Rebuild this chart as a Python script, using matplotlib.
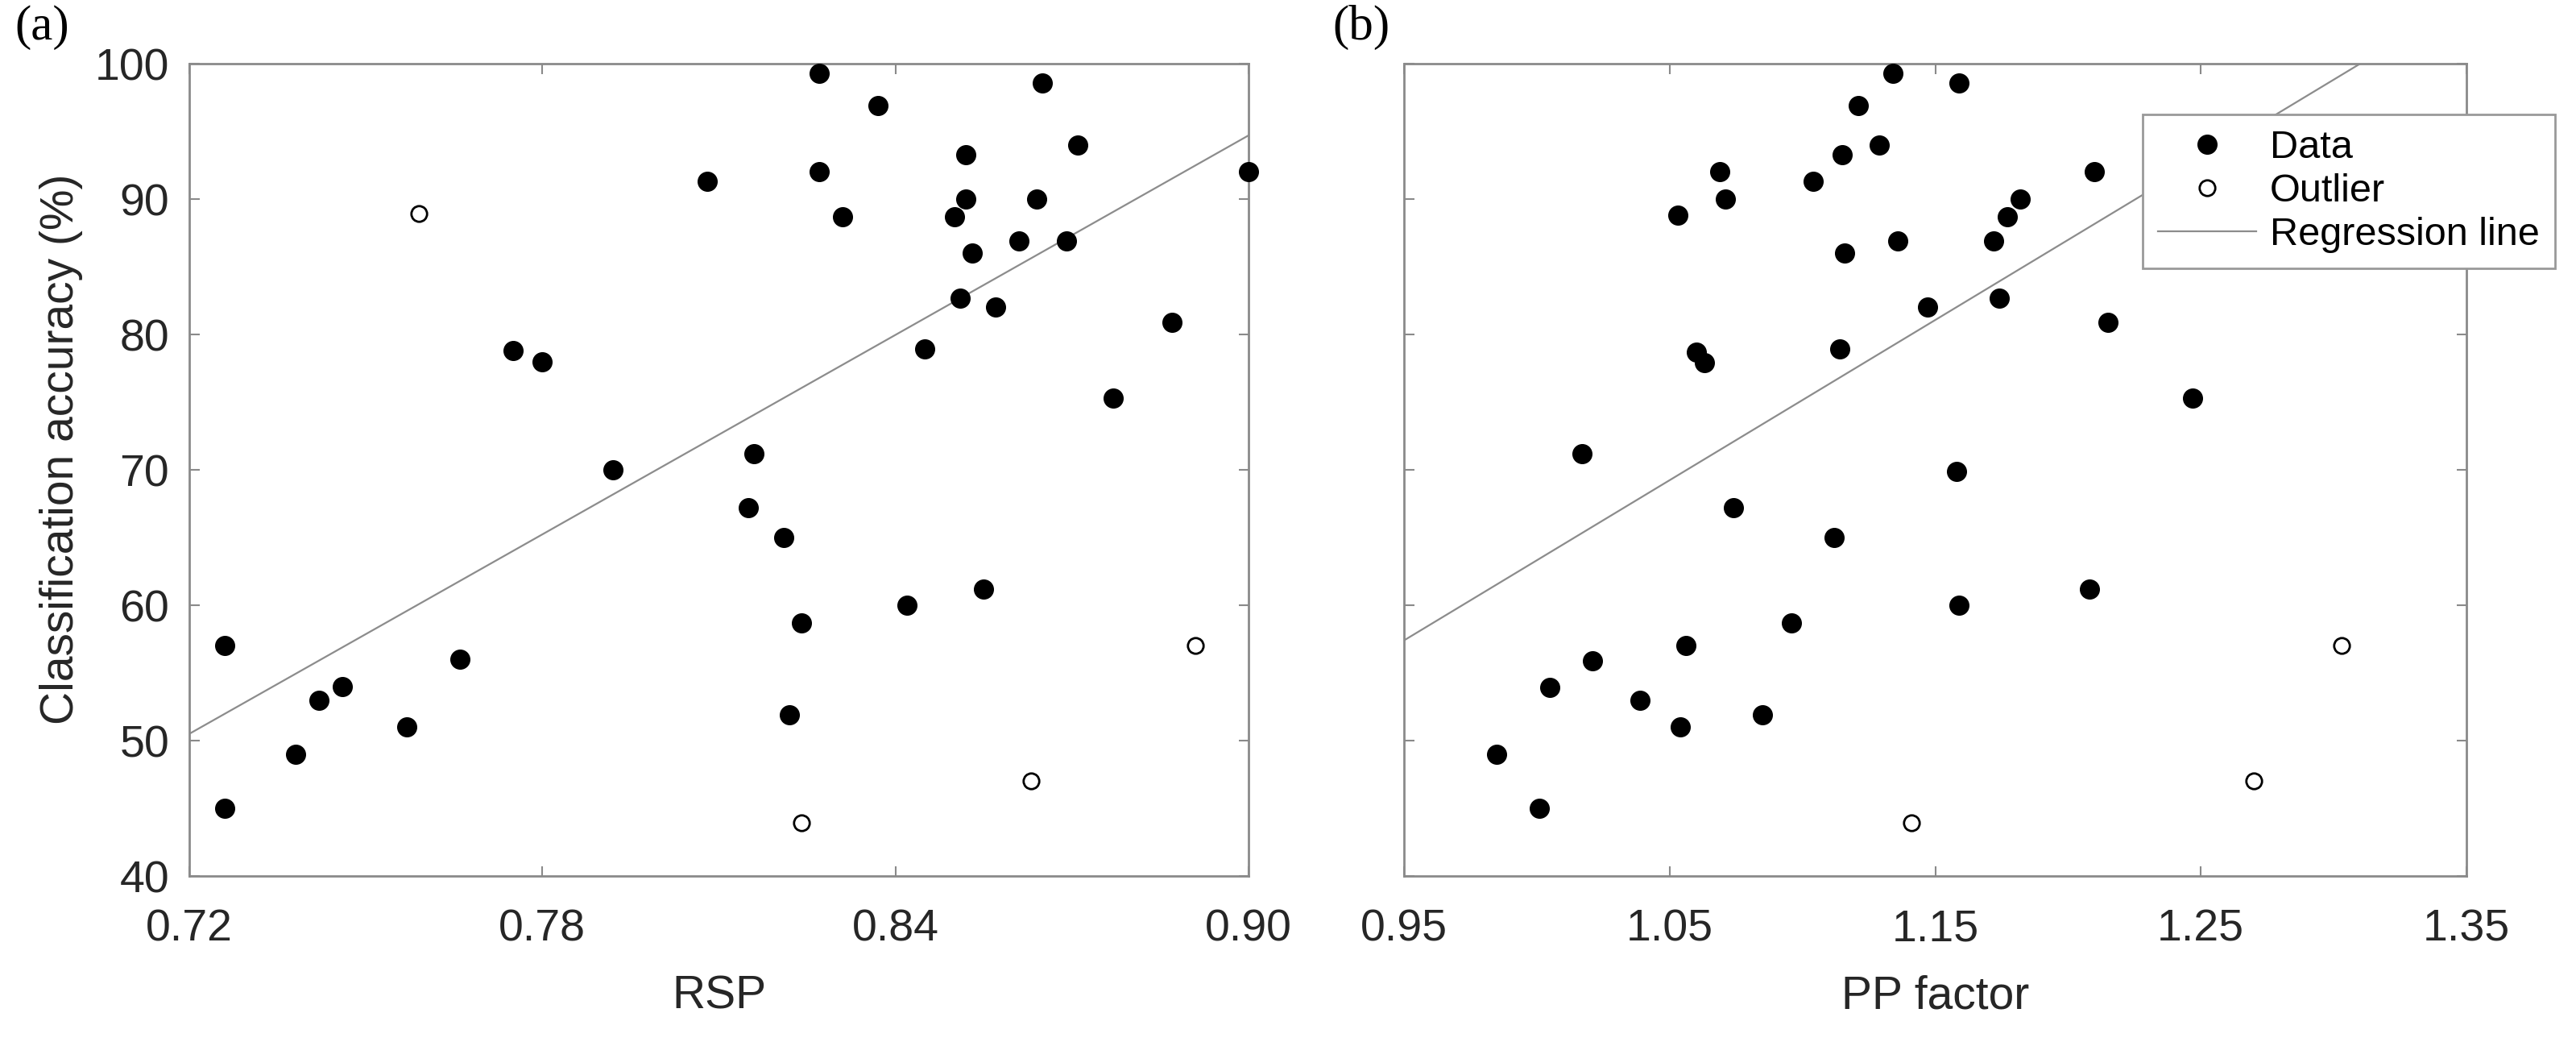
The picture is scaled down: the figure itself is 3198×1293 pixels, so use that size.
import matplotlib
matplotlib.use("Agg")
import matplotlib.pyplot as plt

plt.rcParams['font.family'] = ['Liberation Sans', 'DejaVu Sans']

# panel (a): RSP vs classification accuracy
rsp_x = [0.726, 0.726, 0.738, 0.742, 0.746, 0.757, 0.766, 0.775, 0.780, 0.792,
         0.808, 0.815, 0.816, 0.821, 0.822, 0.824, 0.827, 0.827, 0.831, 0.837,
         0.842, 0.845, 0.850, 0.851, 0.852, 0.852, 0.853, 0.855, 0.857, 0.861,
         0.864, 0.865, 0.869, 0.871, 0.877, 0.887, 0.900]
rsp_y = [57.0, 45.0, 49.0, 53.0, 54.0, 51.0, 56.0, 78.8, 78.0, 70.0,
         91.3, 67.2, 71.2, 65.0, 51.9, 58.7, 99.3, 92.0, 88.7, 96.9,
         60.0, 78.9, 88.7, 82.7, 90.0, 93.3, 86.0, 61.2, 82.0, 86.9,
         90.0, 98.6, 86.9, 94.0, 75.3, 80.9, 92.0]
rsp_out_x = [0.759, 0.824, 0.863, 0.891]
rsp_out_y = [88.9, 43.9, 47.0, 57.0]
rsp_fit_x = [0.72, 0.90]
rsp_fit_y = [50.5, 94.7]

# panel (b): PP factor vs classification accuracy
pp_x = [0.985, 1.001, 1.005, 1.017, 1.021, 1.039, 1.053, 1.054, 1.056, 1.060,
        1.063, 1.069, 1.071, 1.074, 1.085, 1.096, 1.104, 1.112, 1.114, 1.115,
        1.116, 1.121, 1.129, 1.134, 1.136, 1.147, 1.158, 1.159, 1.159, 1.172,
        1.174, 1.177, 1.182, 1.208, 1.210, 1.215, 1.247]
pp_y = [49.0, 45.0, 53.9, 71.2, 55.9, 53.0, 88.8, 51.0, 57.0, 78.7,
        77.9, 92.0, 90.0, 67.2, 51.9, 58.7, 91.3, 65.0, 78.9, 93.3,
        86.0, 96.9, 94.0, 99.3, 86.9, 82.0, 69.9, 60.0, 98.6, 86.9,
        82.7, 88.7, 90.0, 61.2, 92.0, 80.9, 75.3]
pp_out_x = [1.141, 1.270, 1.303]
pp_out_y = [43.9, 47.0, 57.0]
pp_fit_x = [0.95, 1.31]
pp_fit_y = [57.4, 100.0]

y_ticks = [40, 50, 60, 70, 80, 90, 100]
rsp_ticks = [0.72, 0.78, 0.84, 0.90]
pp_ticks = [0.95, 1.05, 1.15, 1.25, 1.35]

W, H = 3198, 1293
fig = plt.figure(figsize=(W / 100, H / 100), dpi=100)
ax1 = fig.add_axes([235 / W, (H - 1087) / H, 1315 / W, 1008 / H])
ax2 = fig.add_axes([1743 / W, (H - 1087) / H, 1319 / W, 1008 / H])

spine_col = "#8a8a8a"
text_col = "#262626"
line_col = "#8c8c8c"

for ax, xs, ys, ox, oy, fx, fy, ticks, xlab in [
        (ax1, rsp_x, rsp_y, rsp_out_x, rsp_out_y, rsp_fit_x, rsp_fit_y, rsp_ticks, "RSP"),
        (ax2, pp_x, pp_y, pp_out_x, pp_out_y, pp_fit_x, pp_fit_y, pp_ticks, "PP factor")]:
    d, = ax.plot(xs, ys, "o", color="black", markersize=17, linestyle="none",
                 clip_on=False, zorder=3)
    o, = ax.plot(ox, oy, "o", markerfacecolor="white", markeredgecolor="black",
                 markersize=14, markeredgewidth=2, linestyle="none", clip_on=False, zorder=3)
    r, = ax.plot(fx, fy, "-", color=line_col, linewidth=1.6, zorder=2)
    ax.set_xlim(ticks[0], ticks[-1])
    ax.set_ylim(40, 100)
    ax.set_xticks(ticks)
    ax.set_xticklabels(["{:.2f}".format(t) for t in ticks])
    ax.set_yticks(y_ticks)
    for s in ax.spines.values():
        s.set_color(spine_col)
        s.set_linewidth(2)
    ax.tick_params(direction="in", top=True, right=True, length=9, width=1.5,
                   color=spine_col, labelcolor=text_col, labelsize=40)
    ax.tick_params(axis="x", pad=29)
    ax.tick_params(axis="y", pad=18)
    ax.set_xlabel(xlab, fontsize=41, color=text_col)
    ax.xaxis.set_label_coords(0.5, -0.122)

ax1.set_ylabel("Classification accuracy (%)", fontsize=41, color=text_col)
ax1.yaxis.set_label_coords(-0.1, 0.525)
ax2.tick_params(axis="y", labelleft=False)

leg = ax2.legend([d, o, r], ["Data", "Outlier", "Regression line"],
                 loc="upper left", bbox_to_anchor=(2660 / W, 1 - 142 / H),
                 bbox_transform=fig.transFigure, borderaxespad=0, fontsize=35,
                 fancybox=False, framealpha=1, edgecolor="#999999",
                 handlelength=2.5, handletextpad=0.35, labelspacing=0.18,
                 borderpad=0.4)
leg.get_frame().set_linewidth(2)
leg.set_zorder(5)
for t in leg.get_texts():
    t.set_color("black")

fig.text(52 / W, 1 - 34 / H, "(a)", fontsize=44, family="Liberation Serif",
         ha="center", va="center", color="black")
fig.text(1690 / W, 1 - 34 / H, "(b)", fontsize=44, family="Liberation Serif",
         ha="center", va="center", color="black")

fig.savefig("out.png", dpi=100)
plt.close(fig)
